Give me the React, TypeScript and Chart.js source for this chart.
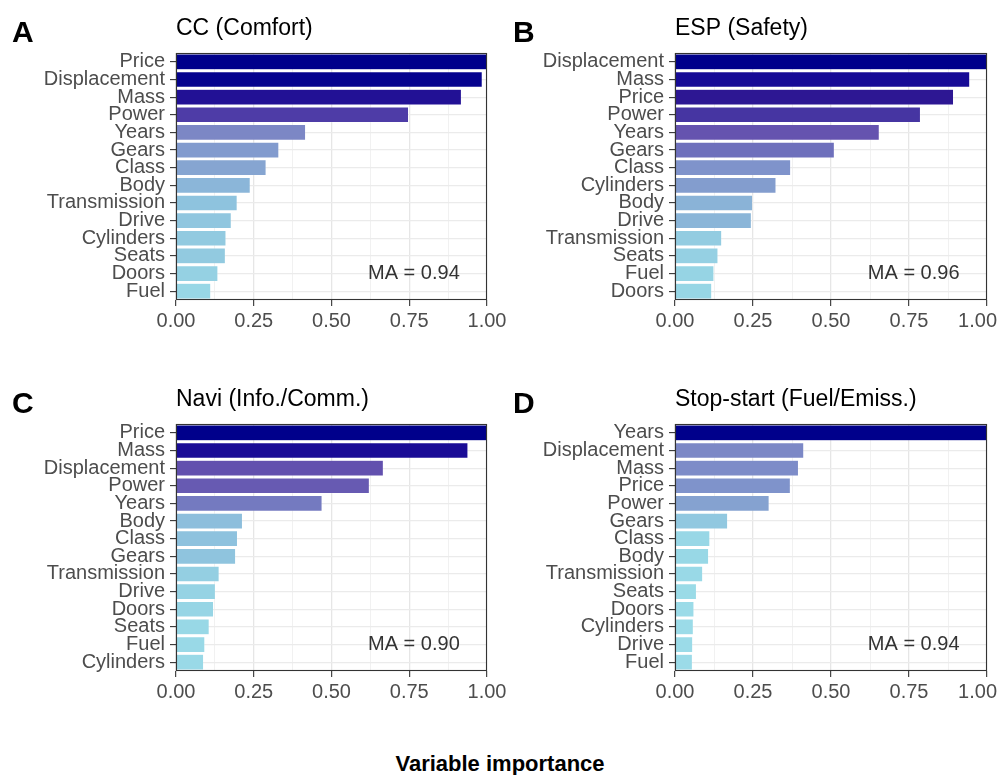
import React, { useEffect, useRef } from "react";
import { Chart, registerables } from "chart.js";

Chart.register(...registerables);

const FONT = '"Liberation Sans", Arial, Helvetica, sans-serif';

// ---- Data ----
const ccCategories = ["Price", "Displacement", "Mass", "Power", "Years", "Gears", "Class", "Body", "Transmission", "Drive", "Cylinders", "Seats", "Doors", "Fuel"];
const ccValues = [1.0, 0.985, 0.918, 0.748, 0.417, 0.331, 0.29, 0.239, 0.197, 0.178, 0.161, 0.159, 0.135, 0.112];

const espCategories = ["Displacement", "Mass", "Price", "Power", "Years", "Gears", "Class", "Cylinders", "Body", "Drive", "Transmission", "Seats", "Fuel", "Doors"];
const espValues = [1.0, 0.945, 0.893, 0.787, 0.655, 0.511, 0.371, 0.324, 0.249, 0.245, 0.15, 0.138, 0.125, 0.118];

const naviCategories = ["Price", "Mass", "Displacement", "Power", "Years", "Body", "Class", "Gears", "Transmission", "Drive", "Doors", "Seats", "Fuel", "Cylinders"];
const naviValues = [1.0, 0.939, 0.667, 0.622, 0.47, 0.214, 0.198, 0.192, 0.139, 0.127, 0.121, 0.107, 0.093, 0.089];

const stopCategories = ["Years", "Displacement", "Mass", "Price", "Power", "Gears", "Class", "Body", "Transmission", "Seats", "Doors", "Cylinders", "Drive", "Fuel"];
const stopValues = [1.0, 0.413, 0.396, 0.37, 0.302, 0.169, 0.112, 0.108, 0.089, 0.069, 0.061, 0.059, 0.057, 0.056];

const xTickValues = [0, 0.25, 0.5, 0.75, 1.0];
const panelLetters = ["A", "B", "C", "D"];
const panelTitles = ["CC (Comfort)", "ESP (Safety)", "Navi (Info./Comm.)", "Stop-start (Fuel/Emiss.)"];
const maLabels = ["MA = 0.94", "MA = 0.96", "MA = 0.90", "MA = 0.94"];
const axisTitle = "Variable importance";

// ---- Style: fill gradient by importance ----
const COLOR_STOPS: [number, string][] = [
  [0.0, "#9EDFEA"],
  [0.11, "#98D8E6"],
  [0.15, "#93CCE1"],
  [0.2, "#8EC2DE"],
  [0.25, "#8AB3D7"],
  [0.3, "#85A2D0"],
  [0.37, "#7F93CB"],
  [0.42, "#7C86C5"],
  [0.51, "#6E70BC"],
  [0.655, "#6553AF"],
  [0.75, "#4D3CA7"],
  [0.79, "#4534A2"],
  [0.89, "#2E1893"],
  [0.945, "#170B96"],
  [1.0, "#00008B"],
];

function hexToRgb(h: string) {
  const n = parseInt(h.slice(1), 16);
  return [(n >> 16) & 255, (n >> 8) & 255, n & 255];
}

function fillFor(v: number) {
  for (let i = 0; i < COLOR_STOPS.length - 1; i++) {
    const [a, ca] = COLOR_STOPS[i];
    const [b, cb] = COLOR_STOPS[i + 1];
    if (v <= b) {
      const t = Math.max(0, Math.min(1, (v - a) / (b - a)));
      const A = hexToRgb(ca);
      const B = hexToRgb(cb);
      const c = A.map((x, k) => Math.round(x + (B[k] - x) * t));
      return `rgb(${c[0]},${c[1]},${c[2]})`;
    }
  }
  return COLOR_STOPS[COLOR_STOPS.length - 1][1];
}

const isMajor = (v: number) => Math.abs(v * 4 - Math.round(v * 4)) < 1e-6;

const panelPlugin = {
  id: "panelDeco",
  afterDatasetsDraw(chart: any, _args: any, opts: any) {
    const { ctx, chartArea: ca } = chart;
    ctx.save();
    ctx.strokeStyle = "#333333";
    ctx.lineWidth = 1.1;
    ctx.strokeRect(ca.left + 0.5, ca.top + 0.5, ca.right - ca.left - 1, ca.bottom - ca.top - 1);

    // MA annotation
    const xs = chart.scales.x;
    const ys = chart.scales.y;
    ctx.fillStyle = "#333333";
    ctx.font = `20px ${FONT}`;
    ctx.textAlign = "center";
    ctx.textBaseline = "middle";
    ctx.fillText(opts.ma, xs.getPixelForValue(opts.maX), ys.getPixelForValue(opts.maRow));
    ctx.restore();
  },
  afterDraw(chart: any, _args: any, opts: any) {
    const { ctx, chartArea: ca } = chart;
    const xs = chart.scales.x;
    ctx.save();
    // x tick labels
    ctx.fillStyle = "#4D4D4D";
    ctx.font = `20px ${FONT}`;
    ctx.textBaseline = "middle";
    ctx.textAlign = "center";
    const maxRight = chart.width - 3;
    for (const v of opts.ticks) {
      const label = v.toFixed(2);
      let x = xs.getPixelForValue(v);
      const w = ctx.measureText(label).width;
      if (x + w / 2 > maxRight) x = maxRight - w / 2;
      ctx.fillText(label, x, ca.bottom + 21);
    }
    // title
    ctx.fillStyle = "#000000";
    ctx.textAlign = "left";
    ctx.textBaseline = "alphabetic";
    ctx.font = `23px ${FONT}`;
    ctx.fillText(opts.title, ca.left, ca.top - 18);
    // panel letter
    ctx.font = `bold 30px ${FONT}`;
    ctx.fillText(opts.letter, opts.letterX, ca.top - 11.5);
    ctx.restore();
  },
};

type PanelProps = {
  categories: string[];
  values: number[];
  idx: number;
  left: number;
  top: number;
  width: number;
  height: number;
  yWidth: number;
  padRight: number;
  letterX: number;
};

function Panel(p: PanelProps) {
  const ref = useRef<HTMLCanvasElement>(null);
  useEffect(() => {
    if (!ref.current) return;
    const chart = new Chart(ref.current, {
      type: "bar",
      data: {
        labels: p.categories,
        datasets: [
          {
            data: p.values,
            backgroundColor: p.values.map(fillFor),
            borderColor: "rgba(255,255,255,0.35)",
            borderWidth: 0.6,
            barPercentage: 0.9,
            categoryPercentage: 1.0,
          },
        ],
      },
      options: {
        indexAxis: "y",
        responsive: false,
        animation: false,
        devicePixelRatio: 1,
        layout: { padding: { top: 53, right: p.padRight, bottom: 5, left: 0 } },
        plugins: {
          legend: { display: false },
          tooltip: { enabled: false },
          panelDeco: {
            ma: maLabels[p.idx],
            maX: 0.765,
            maRow: 12,
            title: panelTitles[p.idx],
            letter: panelLetters[p.idx],
            letterX: p.letterX,
            ticks: xTickValues,
          },
        } as any,
        scales: {
          x: {
            type: "linear",
            min: 0,
            max: 1,
            ticks: {
              stepSize: 0.125,
              autoSkip: false,
              maxRotation: 0,
              color: "rgba(0,0,0,0)",
              font: { family: FONT, size: 20 },
              padding: 3,
              callback: (v: any) => (isMajor(Number(v)) ? Number(v).toFixed(2) : ""),
            },
            grid: {
              color: (c: any) => (c.tick && isMajor(c.tick.value) ? "#E6E6E6" : "#F1F1F1"),
              lineWidth: (c: any) => (c.tick && isMajor(c.tick.value) ? 1.3 : 1),
              tickLength: 6,
              tickColor: (c: any) => (c.tick && isMajor(c.tick.value) ? "#333333" : "rgba(0,0,0,0)"),
              tickWidth: 1.1,
            },
            border: { display: false },
            afterFit: (s: any) => {
              s.height = 40;
              s.paddingLeft = 0;
              s.paddingRight = 0;
            },
          } as any,
          y: {
            type: "category",
            ticks: {
              autoSkip: false,
              color: "#4D4D4D",
              font: { family: FONT, size: 20 },
              padding: 5,
            },
            grid: {
              offset: false,
              color: "#EBEBEB",
              lineWidth: 1.2,
              tickLength: 6,
              tickColor: "#333333",
              tickWidth: 1.1,
            },
            border: { display: false },
            afterFit: (s: any) => {
              s.width = p.yWidth;
              s.paddingTop = 0;
              s.paddingBottom = 0;
            },
          } as any,
        },
      },
      plugins: [panelPlugin as any],
    });
    return () => chart.destroy();
  }, []);
  return (
    <canvas
      ref={ref}
      width={p.width}
      height={p.height}
      style={{ position: "absolute", left: p.left, top: p.top, width: p.width, height: p.height }}
    />
  );
}

export default function App() {
  return (
    <div
      style={{
        position: "absolute",
        left: 0,
        top: 0,
        width: 1000,
        height: 775,
        overflow: "hidden",
        background: "#ffffff",
      }}
    >
      <Panel categories={ccCategories} values={ccValues} idx={0} left={0} top={0} width={515} height={345} yWidth={176} padRight={28} letterX={12} />
      <Panel categories={espCategories} values={espValues} idx={1} left={500} top={0} width={500} height={345} yWidth={175} padRight={13} letterX={13} />
      <Panel categories={naviCategories} values={naviValues} idx={2} left={0} top={371} width={515} height={345} yWidth={176} padRight={28} letterX={12} />
      <Panel categories={stopCategories} values={stopValues} idx={3} left={500} top={371} width={500} height={345} yWidth={175} padRight={13} letterX={13} />
      <div
        style={{
          position: "absolute",
          left: 0,
          top: 753,
          width: 1000,
          textAlign: "center",
          fontFamily: FONT,
          fontWeight: "bold",
          fontSize: 22,
          lineHeight: "22px",
          color: "#000",
        }}
      >
        {axisTitle}
      </div>
    </div>
  );
}
